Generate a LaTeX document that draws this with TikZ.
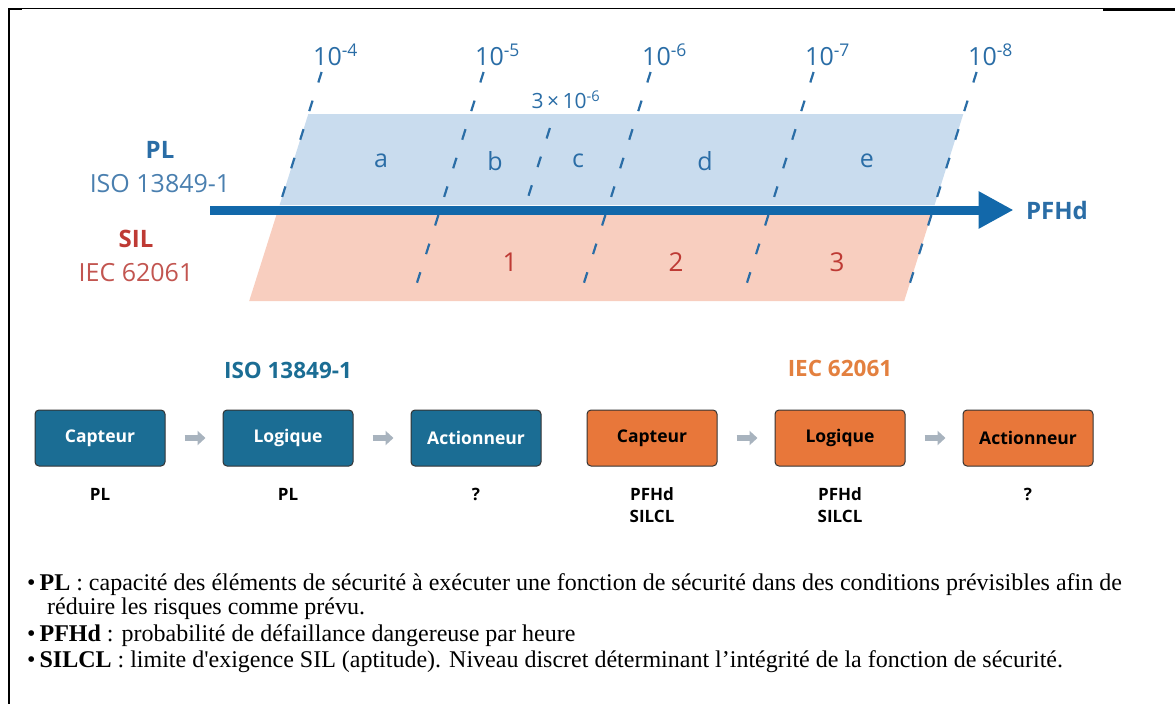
\documentclass[tikz,border=0pt]{standalone}
\usepackage{fontspec}
\setmainfont{Liberation Serif}
\setsansfont{Open Sans}
\usetikzlibrary{arrows.meta}

\definecolor{plblue}{HTML}{2A6DA6}
\definecolor{isoblue}{HTML}{4A7FAF}
\definecolor{bandblue}{HTML}{C9DCEE}
\definecolor{arrowblue}{HTML}{1268AA}
\definecolor{silred}{HTML}{BE3A34}
\definecolor{iecred}{HTML}{C25550}
\definecolor{bandpink}{HTML}{F8CEBF}
\definecolor{boxblue}{HTML}{1B6D94}
\definecolor{boxorange}{HTML}{E8773A}
\definecolor{headorange}{HTML}{E3803F}
\definecolor{flowgray}{HTML}{A8B3BE}

\begin{document}
\begin{tikzpicture}[x=1pt, y=-1pt, node distance=188pt,
    every node/.style={font=\sffamily},
    pfhline/.style={plblue, line width=2.2pt, dash pattern=on 11pt off 19pt},
    expo/.style={plblue, font=\sffamily\fontsize{25}{28}\selectfont},
    zone/.style={plblue, font=\sffamily\fontsize{25}{28}\selectfont},
    silnum/.style={silred, font=\sffamily\fontsize{26}{28}\selectfont},
    block/.style={rectangle, rounded corners=4pt, draw=black!80, line width=1pt, minimum width=130pt, minimum height=56pt, font=\sffamily\bfseries\fontsize{17.5}{20}\selectfont},
    isoblock/.style={block, fill=boxblue, text=white},
    iecblock/.style={block, fill=boxorange, text=black},
    rating/.style={align=center, font=\sffamily\bfseries\fontsize{17}{22}\selectfont},
    flow/.style={flowgray, line width=6pt, -{Triangle[length=8pt, width=14pt]}, shorten <=19pt, shorten >=17pt},
    note/.style={anchor=base west, inner sep=0pt, font=\rmfamily\fontsize{24}{26}\selectfont}]
    \useasboundingbox (0,0) rectangle (1175,704);

    % Frame
    \draw[line width=1pt] (8,8.5) -- (1175,8.5);
    \draw[line width=2.5pt] (9,8) -- (9,704);
    \draw[line width=2.5pt] (8,9) -- (22,9);
    \draw[line width=2.5pt] (1103,9.5) -- (1175,9.5);

    % Bands
    \fill[bandblue] (308.3,114) -- (963.3,114) -- (934.6,205) -- (279.6,205) -- cycle;
    \fill[bandpink] (276.4,215) -- (931.4,215) -- (904.2,301) -- (249.2,301) -- cycle;

    % PFHd axis
    \coordinate (axisStart) at (210,210);
    \node[plblue, font=\sffamily\bfseries\fontsize{24}{28}\selectfont] (pfhd) at (1057,210) {PFHd};
    \draw[arrowblue, line width=9pt, -{Triangle[length=35pt, width=35pt]}, shorten >=9pt] (axisStart) -- (pfhd.west);

    % Limits
    \foreach \xo/\ex/\yb [count=\i] in {278/-4/205, 440/-5/300, 607/-6/300, 770/-7/300, 933/-8/300} {
        \draw[pfhline] ({\xo+43.6},72) -- ({\xo+(210-\yb)*0.316},\yb);
        \node[expo] (exp\i) at ({\xo+57.6},55) {10\textsuperscript{\ex}};
    }
    \draw[pfhline] (549.9,128) -- (525.6,205);
    \node[plblue, font=\sffamily\fontsize{21}{24}\selectfont] (expc) at (566,100) {3\,×\,10\textsuperscript{-6}};

    % Levels
    \foreach \lx/\lt in {381/a, 495/b, 578/c, 705/d, 867/e}
        \node[zone] (pl\lt) at (\lx,161) {\lt};
    \foreach \lx/\lt in {510/1, 676/2, 837/3}
        \node[silnum] (sil\lt) at (\lx,262) {\lt};

    \node[plblue, font=\sffamily\bfseries\fontsize{24}{28}\selectfont] (plTitle) at (160,150) {PL};
    \node[isoblue, font=\sffamily\fontsize{25}{28}\selectfont] (plNorm) at (160,184) {ISO 13849-1};
    \node[silred, font=\sffamily\bfseries\fontsize{24}{28}\selectfont] (silTitle) at (136,239) {SIL};
    \node[iecred, font=\sffamily\fontsize{25}{28}\selectfont] (silNorm) at (136,273) {IEC 62061};

    % Nodes
    \node[isoblock] (capA) at (100,438) {Capteur};
    \node[isoblock, right of=capA] (logA) {Logique};
    \node[isoblock, right of=logA] (actA) {Actionneur};
    \node[iecblock, right of=actA, xshift=-12pt] (capB) {Capteur};
    \node[iecblock, right of=capB] (logB) {Logique};
    \node[iecblock, right of=logB] (actB) {Actionneur};

    \node[boxblue, font=\sffamily\bfseries\fontsize{22.5}{24}\selectfont, above of=logA, node distance=68pt] (isoHead) {ISO 13849-1};
    \node[headorange, font=\sffamily\bfseries\fontsize{22.5}{24}\selectfont, above of=logB, node distance=70pt] (iecHead) {IEC 62061};

    \node[rating, below of=capA, node distance=56pt] (capAval) {PL};
    \node[rating, below of=logA, node distance=56pt] (logAval) {PL};
    \node[rating, below of=actA, node distance=56pt] (actAval) {?};
    \node[rating, below of=capB, node distance=67pt] (capBval) {PFHd\\SILCL};
    \node[rating, below of=logB, node distance=67pt] (logBval) {PFHd\\SILCL};
    \node[rating, below of=actB, node distance=56pt] (actBval) {?};

    % Arrows
    \draw[flow] (capA) -- (logA);
    \draw[flow] (logA) -- (actA);
    \draw[flow] (capB) -- (logB);
    \draw[flow] (logB) -- (actB);

    % Notes
    \node[note] (note1) at (27,590) {\textbullet\hspace{4pt}\textbf{PL} : capacité des éléments de sécurité à exécuter une fonction de sécurité dans des conditions prévisibles afin de};
    \node[note] (note2) at (47,614) {réduire les risques comme prévu.};
    \node[note] (note3) at (27,641) {\textbullet\hspace{4pt}\textbf{PFHd} : probabilité de défaillance dangereuse par heure};
    \node[note] (note4) at (27,667) {\textbullet\hspace{4pt}\textbf{SILCL} : limite d\textquotesingle exigence SIL (aptitude). Niveau discret déterminant l’intégrité de la fonction de sécurité.};
\end{tikzpicture}
\end{document}
